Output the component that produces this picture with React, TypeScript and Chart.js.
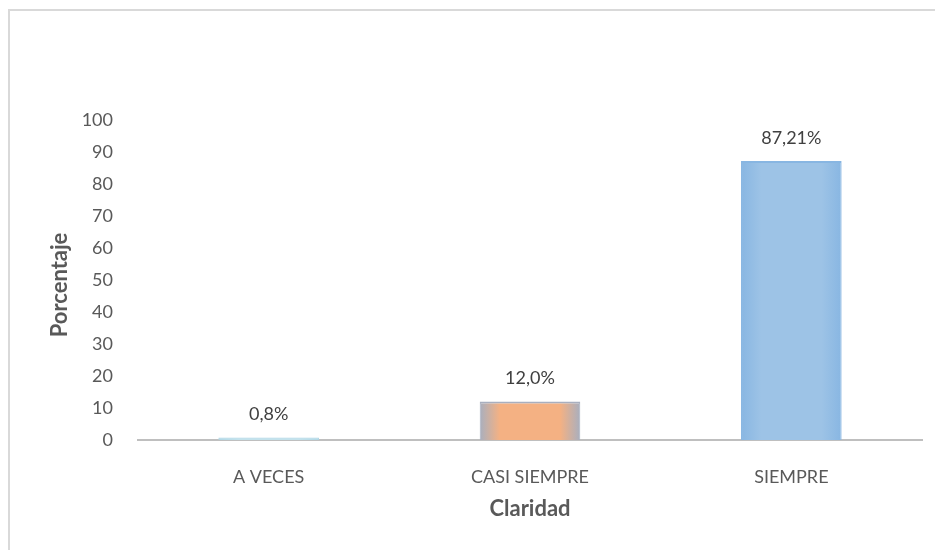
import React, { useEffect, useRef } from "react";
import { Chart, registerables } from "chart.js";

Chart.register(...registerables);

const categories = ["A VECES", "CASI SIEMPRE", "SIEMPRE"];
const values = [0.8, 12.0, 87.21];
const valueLabels = ["0,8%", "12,0%", "87,21%"];
const yTicks = [0, 10, 20, 30, 40, 50, 60, 70, 80, 90, 100];
const barFill = ["#c3e2ec", "#f4b183", "#9dc3e6"];
const barEdge = ["#b0d7e6", "#a8afbf", "#88b6e2"];

const FONT = "Lato, 'Open Sans', sans-serif";

const decorPlugin = {
  id: "decor",
  beforeDraw(chart: any) {
    const { ctx, width, height } = chart;
    ctx.save();
    ctx.fillStyle = "#ffffff";
    ctx.fillRect(0, 0, width, height);
    ctx.strokeStyle = "#d9d9d9";
    ctx.lineWidth = 2;
    ctx.beginPath();
    ctx.moveTo(9, height);
    ctx.lineTo(9, 10);
    ctx.lineTo(width, 10);
    ctx.stroke();
    ctx.restore();
  },
  afterDatasetsDraw(chart: any) {
    const { ctx, chartArea } = chart;
    const meta = chart.getDatasetMeta(0);
    ctx.save();
    // value labels above bars
    ctx.font = `18px ${FONT}`;
    ctx.fillStyle = "#404040";
    ctx.textAlign = "center";
    ctx.textBaseline = "bottom";
    meta.data.forEach((bar: any, i: number) => {
      ctx.fillText(valueLabels[i], bar.x, bar.y - 14);
    });
    // axis titles
    ctx.font = `bold 22px ${FONT}`;
    ctx.fillStyle = "#595959";
    ctx.textBaseline = "middle";
    ctx.fillText("Claridad", (chartArea.left + chartArea.right) / 2, 509);
    ctx.translate(60, 285);
    ctx.rotate(-Math.PI / 2);
    ctx.fillText("Porcentaje", 0, 0);
    ctx.restore();
  },
};

function barGradient(ctx: any, i: number) {
  const chart = ctx.chart;
  const el = chart.getDatasetMeta(0).data[i];
  if (!el || !chart.chartArea) return barFill[i];
  const w = el.width;
  const x = el.x;
  if (!Number.isFinite(w) || !Number.isFinite(x) || w <= 0) return barFill[i];
  const half = w / 2;
  const g = chart.ctx.createLinearGradient(x - half, 0, x + half, 0);
  g.addColorStop(0, barEdge[i]);
  g.addColorStop(0.2, barFill[i]);
  g.addColorStop(0.8, barFill[i]);
  g.addColorStop(1, barEdge[i]);
  return g;
}

export default function App() {
  const canvasRef = useRef<HTMLCanvasElement | null>(null);

  useEffect(() => {
    document.body.style.margin = "0";
    const canvas = canvasRef.current;
    if (!canvas) return;
    const chart = new Chart(canvas, {
      type: "bar",
      data: {
        labels: categories,
        datasets: [
          {
            data: values,
            backgroundColor: barFill,
            borderColor: barEdge,
            borderWidth: { top: 2, left: 1, right: 1, bottom: 0 },
            borderSkipped: "bottom",
            barPercentage: 0.385,
            categoryPercentage: 1,
          },
        ],
      },
      options: {
        responsive: false,
        animation: false,
        devicePixelRatio: 1,
        layout: { padding: { left: 0, right: 13, top: 120, bottom: 0 } },
        plugins: {
          legend: { display: false },
          tooltip: { enabled: false },
          title: { display: false },
        },
        scales: {
          x: {
            grid: { display: false, drawTicks: false },
            border: { display: true, color: "#bfbfbf", width: 2 },
            ticks: {
              color: "#595959",
              font: { family: FONT, size: 18 },
              padding: 26,
              maxRotation: 0,
            },
            afterFit: (s: any) => {
              s.height = 110;
            },
          },
          y: {
            min: 0,
            max: 100,
            grid: { display: false, drawTicks: false },
            border: { display: false },
            afterBuildTicks: (s: any) => {
              s.ticks = yTicks.map((v) => ({ value: v }));
            },
            ticks: {
              color: "#595959",
              font: { family: FONT, size: 18 },
              padding: 25,
            },
            afterFit: (s: any) => {
              s.width = 138;
            },
          },
        },
      },
      plugins: [decorPlugin],
    });
    // edge shading once the bar geometry is known
    chart.data.datasets[0].backgroundColor = (c: any) => barGradient(c, c.dataIndex);
    chart.update("none");
    return () => chart.destroy();
  }, []);

  return (
    <div style={{ position: "fixed", left: 0, top: 0, width: 935, height: 550 }}>
      <canvas ref={canvasRef} width={935} height={550} />
    </div>
  );
}
